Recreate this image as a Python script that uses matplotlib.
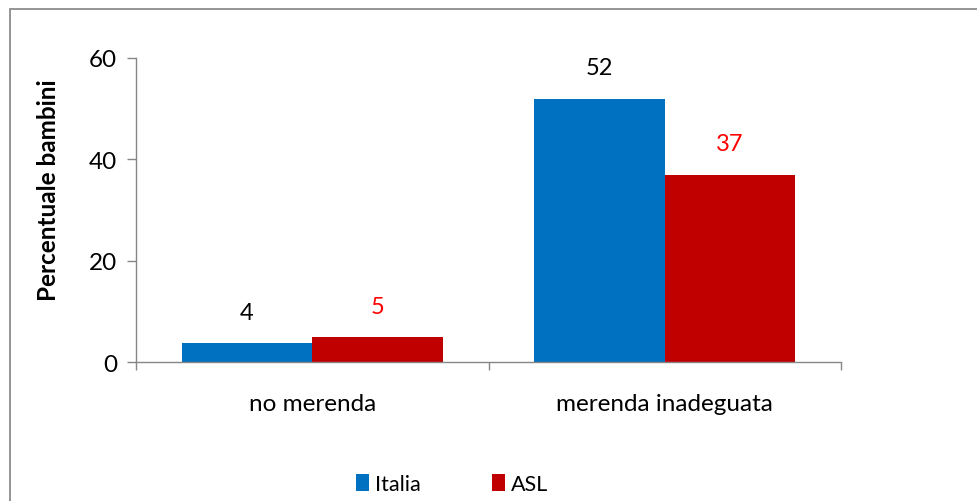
import matplotlib
matplotlib.use("Agg")
import matplotlib.pyplot as plt
import numpy as np
from matplotlib.patches import Rectangle, Patch

plt.rcParams['font.family'] = ['Lato', 'DejaVu Sans']

categories = ["no merenda", "merenda inadeguata"]
italia = [3.7, 52]
asl = [5, 37]
series_names = ["Italia", "ASL"]
colors = ["#0070C0", "#C00000"]
label_colors = ["black", "#FF0000"]
yticks = [0, 20, 40, 60]

W, H = 977, 502
fig = plt.figure(figsize=(W / 100, H / 100), dpi=100)
ax = fig.add_axes([136 / W, (H - 363) / H, (841 - 136) / W, (363 - 59) / H])

# chart border (open to the right and bottom, as in the original crop)
fig.patches.append(Rectangle((10 / W, -0.5), 2, (H - 10) / H + 0.5,
                             transform=fig.transFigure, fill=False,
                             edgecolor="#8c8c8c", linewidth=1.3))

x = np.arange(len(categories))
bw = 0.37
for vals, off, col, lcol in zip([italia, asl], [-bw / 2, bw / 2], colors, label_colors):
    bars = ax.bar(x + off, vals, bw, color=col, linewidth=0)
    for b, v in zip(bars, vals):
        ax.annotate(f"{v:.0f}", (b.get_x() + b.get_width() / 2, b.get_height()),
                    xytext=(0, 22), textcoords="offset points",
                    ha="center", va="center", fontsize=17, color=lcol)

ax.set_xlim(-0.5, len(categories) - 0.5)
ax.set_ylim(0, 60)
ax.set_yticks(yticks)
ax.set_xticks(x)
ax.set_xticklabels(categories)
ax.set_xticks(np.arange(-0.5, len(categories)), minor=True)
ax.tick_params(axis="x", which="major", length=0, pad=22, labelsize=17.5)
ax.tick_params(axis="x", which="minor", length=6, color="#868686", width=1)
ax.tick_params(axis="y", length=6.5, color="#868686", width=1, labelsize=17.5, pad=7)

for s in ["top", "right"]:
    ax.spines[s].set_visible(False)
for s in ["left", "bottom"]:
    ax.spines[s].set_color("#868686")
    ax.spines[s].set_linewidth(1)

ax.set_ylabel("Percentuale bambini", fontsize=17.5, fontweight="bold", va="center")
ax.yaxis.set_label_coords(-0.124, 0.569)

handles = [Patch(facecolor=c, edgecolor="none") for c in colors]
fig.legend(handles, series_names, loc="center", bbox_to_anchor=(452 / W, (H - 485) / H),
           ncol=2, frameon=False, fontsize=15.5, handlelength=0.6, handleheight=0.8,
           handletextpad=0.3, columnspacing=3.3)

fig.savefig("out.png", dpi=100)
